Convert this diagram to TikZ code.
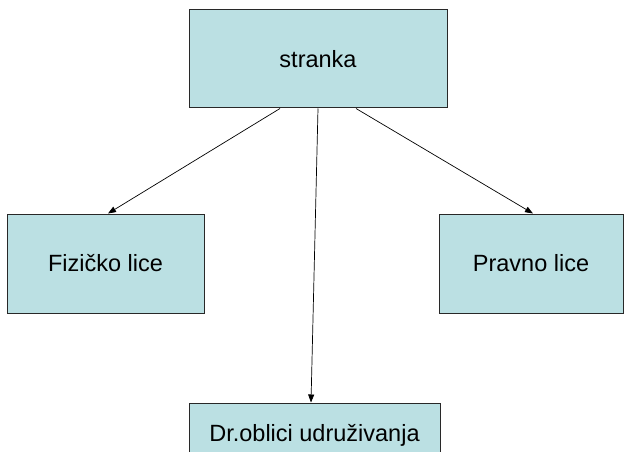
\documentclass[tikz,border=0pt]{standalone}
\usepackage{fontspec}
\setmainfont{Liberation Sans}
\usetikzlibrary{calc,arrows.meta}
\definecolor{boxfill}{RGB}{187,224,227}
\definecolor{boxline}{RGB}{40,40,40}
\begin{document}
\begin{tikzpicture}[x=1pt,y=-1pt,
  box/.style={draw=boxline,line width=1pt,fill=boxfill,inner sep=0pt,
    font=\fontsize{23.5}{28}\selectfont},
  conn/.style={line width=0.7pt,-{Triangle[length=8pt,width=6pt]}}]
\clip (0,0) rectangle (627,452);
\useasboundingbox (0,0) rectangle (627,452);
\fill[white] (0,0) rectangle (627,452);
\node[box,minimum width=258pt,minimum height=98pt] (s) at (318,59) {stranka};
\node[box,minimum width=197pt,minimum height=99pt] (f) at (105.5,263.5) {Fizičko lice};
\node[box,minimum width=184pt,minimum height=99pt] (p) at (531,263.5) {Pravno lice};
\node[box,minimum width=251pt,minimum height=64pt] (d) at (314.5,435) {Dr.oblici udruživanja};
\draw[conn] ($(s.south)+(-38,0)$) -- ($(f.north)+(2.5,0)$);
\draw[conn] (s.south) -- ($(d.north)+(-3.5,0)$);
\draw[conn] ($(s.south)+(38,0)$) -- ($(p.north)+(2,0)$);
\end{tikzpicture}
\end{document}
